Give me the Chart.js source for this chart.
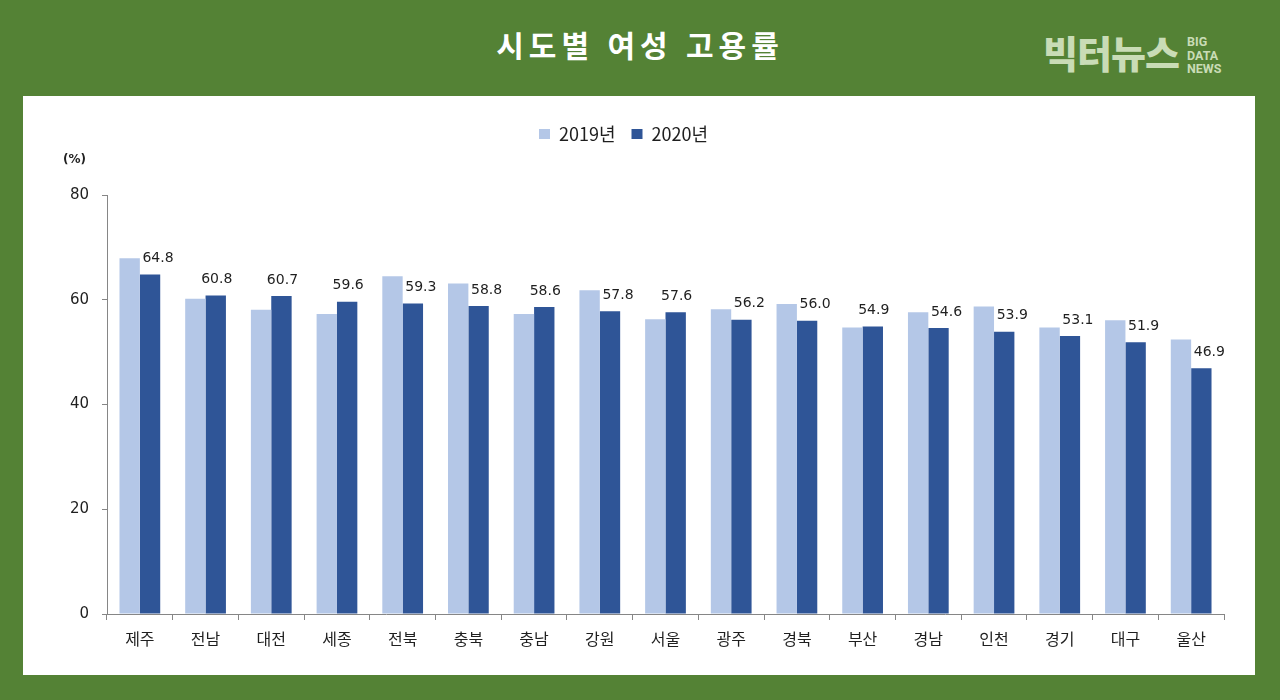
<!DOCTYPE html>
<html lang="ko">
<head>
<meta charset="utf-8">
<script src="https://cdn.jsdelivr.net/npm/chart.js@4.4.1/dist/chart.umd.min.js"></script>
<style>
  html, body { margin: 0; padding: 0; }
  body { width: 1280px; height: 700px; background: #548235; position: relative; overflow: hidden; font-family: "Noto Sans CJK KR", sans-serif; }
  #title { position: absolute; left: 0; width: 1280px; top: 22px; text-align: center; color: #ffffff; font-weight: 700; font-size: 30px; letter-spacing: 5px; line-height: 44px; }
  #logo { position: absolute; left: 1043px; top: 27px; color: #c9dcb6; font-weight: 800; font-size: 38px; line-height: 50px; letter-spacing: -1px; }
  #logo2 { position: absolute; left: 1187px; top: 35px; color: #c9dcb6; font-family: Roboto, sans-serif; font-weight: 700; font-size: 12.5px; line-height: 13.5px; }
  #panel { position: absolute; left: 23px; top: 96px; width: 1232px; height: 579px; background: #ffffff; }
  canvas { display: block; }
</style>
</head>
<body>
<div id="title">시도별 여성 고용률</div>
<div id="logo">빅터뉴스</div>
<div id="logo2">BIG<br>DATA<br>NEWS</div>
<div id="panel"><canvas id="c" width="1232" height="579"></canvas></div>
<script>
const categories = ['제주','전남','대전','세종','전북','충북','충남','강원','서울','광주','경북','부산','경남','인천','경기','대구','울산'];
const values2019 = [67.9, 60.2, 58.1, 57.3, 64.5, 63.1, 57.3, 61.8, 56.3, 58.2, 59.2, 54.7, 57.6, 58.7, 54.7, 56.1, 52.4];
const values2020 = [64.8, 60.8, 60.7, 59.6, 59.3, 58.8, 58.6, 57.8, 57.6, 56.2, 56.0, 54.9, 54.6, 53.9, 53.1, 51.9, 46.9];
const seriesNames = ['2019년', '2020년'];
const yTicks = [0, 20, 40, 60, 80];
const unitLabel = '(%)';

const AXIS = '#868686';
const TEXT = '#1f1f1f';

const legendSpacer = {
  id: 'legendSpacer',
  beforeInit(chart) {
    const orig = chart.legend.fit;
    chart.legend.fit = function () {
      orig.bind(chart.legend)();
      this.height += 42;
    };
  }
};

const extras = {
  id: 'extras',
  afterDatasetsDraw(chart) {
    const ctx = chart.ctx;
    ctx.save();
    ctx.font = '14px "DejaVu Sans", Verdana, sans-serif';
    ctx.fillStyle = TEXT;
    ctx.textAlign = 'center';
    ctx.textBaseline = 'middle';
    const meta = chart.getDatasetMeta(1);
    meta.data.forEach((bar, i) => {
      const dx = values2019[i] > values2020[i] ? 8 : 1;
      ctx.fillText(values2020[i].toFixed(1), bar.x + dx, bar.y - 16);
    });
    ctx.font = 'bold 12px "DejaVu Sans", sans-serif';
    ctx.textAlign = 'left';
    ctx.fillText(unitLabel, 40, 64);
    ctx.restore();
  }
};

new Chart(document.getElementById('c'), {
  type: 'bar',
  data: {
    labels: categories,
    datasets: [
      { label: seriesNames[0], data: values2019, backgroundColor: '#B4C7E7', borderWidth: 0 },
      { label: seriesNames[1], data: values2020, backgroundColor: '#2F5597', borderWidth: 0 }
    ]
  },
  options: {
    responsive: false,
    animation: false,
    devicePixelRatio: 1,
    categoryPercentage: 0.62,
    barPercentage: 1.0,
    layout: { padding: { left: 0, right: 31, top: 13, bottom: 0 } },
    plugins: {
      legend: {
        position: 'top',
        labels: {
          boxWidth: 11, boxHeight: 10, padding: 16,
          color: TEXT,
          font: { family: '"Noto Sans CJK KR", sans-serif', size: 18 }
        }
      },
      tooltip: { enabled: false }
    },
    scales: {
      x: {
        offset: true,
        grid: { display: true, drawOnChartArea: false, offset: true, tickLength: 6, color: AXIS, tickColor: AXIS },
        border: { display: true, color: AXIS, width: 1 },
        ticks: { color: TEXT, padding: 9, font: { family: '"Noto Sans CJK KR", sans-serif', size: 16 } },
        afterFit(scale) { scale.height = 61; }
      },
      y: {
        min: 0, max: 80,
        afterBuildTicks(scale) { scale.ticks = yTicks.map(v => ({ value: v })); },
        grid: { display: true, drawOnChartArea: false, tickLength: 5, color: AXIS, tickColor: AXIS },
        border: { display: true, color: AXIS, width: 1 },
        ticks: { color: TEXT, padding: 13, font: { family: '"DejaVu Sans", Verdana, sans-serif', size: 15 } },
        afterFit(scale) { scale.width = 84; }
      }
    }
  },
  plugins: [legendSpacer, extras]
});
</script>
</body>
</html>
